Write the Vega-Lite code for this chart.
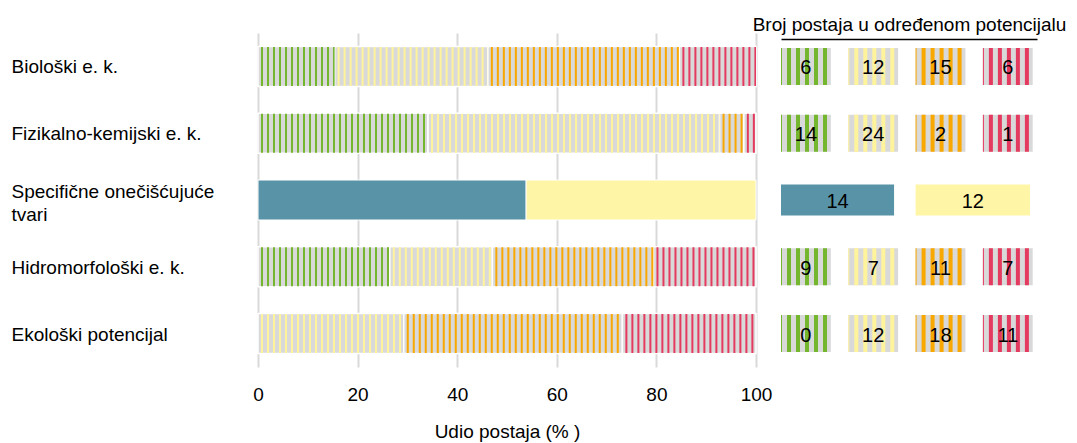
{
  "$schema": "https://vega.github.io/schema/vega-lite/v6.json",
  "background": "white",
  "padding": {"left": 11, "top": 15, "right": 5, "bottom": 5},
  "bounds": "flush",
  "spacing": 25,
  "config": {
    "view": {"stroke": null},
    "font": "Liberation Sans",
    "text": {"font": "Liberation Sans"}
  },
  "datasets": {
    "d": [
      {"cat": "Biološki e. k.", "cls": "dobar i bolji", "n": 6},
      {"cat": "Biološki e. k.", "cls": "umjeren", "n": 12},
      {"cat": "Biološki e. k.", "cls": "loš", "n": 15},
      {"cat": "Biološki e. k.", "cls": "vrlo loš", "n": 6},
      {"cat": "Fizikalno-kemijski e. k.", "cls": "dobar i bolji", "n": 14},
      {"cat": "Fizikalno-kemijski e. k.", "cls": "umjeren", "n": 24},
      {"cat": "Fizikalno-kemijski e. k.", "cls": "loš", "n": 2},
      {"cat": "Fizikalno-kemijski e. k.", "cls": "vrlo loš", "n": 1},
      {"cat": "Specifične onečišćujuće tvari", "cls": "dobro stanje", "n": 14},
      {"cat": "Specifične onečišćujuće tvari", "cls": "nije postignuto dobro stanje", "n": 12},
      {"cat": "Hidromorfološki e. k.", "cls": "dobar i bolji", "n": 9},
      {"cat": "Hidromorfološki e. k.", "cls": "umjeren", "n": 7},
      {"cat": "Hidromorfološki e. k.", "cls": "loš", "n": 11},
      {"cat": "Hidromorfološki e. k.", "cls": "vrlo loš", "n": 7},
      {"cat": "Ekološki potencijal", "cls": "dobar i bolji", "n": 0},
      {"cat": "Ekološki potencijal", "cls": "umjeren", "n": 12},
      {"cat": "Ekološki potencijal", "cls": "loš", "n": 18},
      {"cat": "Ekološki potencijal", "cls": "vrlo loš", "n": 11}
    ]
  },
  "hconcat": [
    {
      "width": 498,
      "height": 334,
      "data": {"name": "d"},
      "transform": [
        {"calculate": "indexof(['dobar i bolji','dobro stanje','umjeren','nije postignuto dobro stanje','loš','vrlo loš'], datum.cls)", "as": "o"},
        {"stack": "n", "groupby": ["cat"], "sort": [{"field": "o", "order": "ascending"}], "offset": "normalize", "as": ["p0", "p1"]}
      ],
      "encoding": {
        "y": {
          "field": "cat", "type": "nominal",
          "sort": ["Biološki e. k.", "Fizikalno-kemijski e. k.", "Specifične onečišćujuće tvari", "Hidromorfološki e. k.", "Ekološki potencijal"],
          "scale": {"paddingInner": 0, "paddingOuter": 0},
          "axis": {
            "title": null, "domain": false, "ticks": false, "tickSize": 0,
            "labelAlign": "left", "labelBaseline": "middle", "labelPadding": 247,
            "labelFontSize": 19, "labelColor": "black", "labelLimit": 400, "labelLineHeight": 23,
            "labelOffset": {"condition": {"test": "datum.label == 'Specifične onečišćujuće tvari'", "value": -8}, "value": 1},
            "labelExpr": "datum.label == 'Specifične onečišćujuće tvari' ? ['Specifične onečišćujuće', 'tvari'] : datum.label"
          }
        },
        "x": {
          "field": "p0", "type": "quantitative",
          "scale": {"domain": [0, 1], "nice": false},
          "axis": {
            "values": [0, 0.2, 0.4, 0.6, 0.8, 1],
            "labelExpr": "format(datum.value * 100, 'd')",
            "grid": true, "gridColor": "#d9d9d9", "gridWidth": 2,
            "domain": false, "ticks": false, "labelFlush": false,
            "labelPadding": 18, "labelFontSize": 19, "labelColor": "black",
            "title": "Udio postaja (% )", "titleFontSize": 19, "titleFontWeight": "normal",
            "titleColor": "black", "titlePadding": 18
          }
        },
        "x2": {"field": "p1"}
      },
      "layer": [
        {
          "transform": [{"filter": "datum.cls != 'dobro stanje' && datum.cls != 'nije postignuto dobro stanje'"}],
          "mark": {"type": "bar", "size": 40, "fill": "#d9d9d9", "stroke": "white", "strokeWidth": 1.5}
        },
        {
          "transform": [{"filter": "datum.cls != 'dobro stanje' && datum.cls != 'nije postignuto dobro stanje'"}],
          "mark": {"type": "rule", "strokeWidth": 39, "strokeDash": [2, 4], "strokeDashOffset": 3},
          "encoding": {
            "color": {
              "field": "cls", "type": "nominal", "legend": null,
              "scale": {
                "domain": ["dobar i bolji", "umjeren", "loš", "vrlo loš", "dobro stanje", "nije postignuto dobro stanje"],
                "range": ["#74b72e", "#fff39c", "#f8a800", "#e53a5f", "#5993a8", "#fff5a6"]
              }
            }
          }
        },
        {
          "transform": [{"filter": "datum.cls == 'dobro stanje' || datum.cls == 'nije postignuto dobro stanje'"}],
          "mark": {"type": "bar", "size": 40, "stroke": "white", "strokeWidth": 1},
          "encoding": {
            "color": {"field": "cls", "type": "nominal", "legend": null}
          }
        }
      ]
    },
    {
      "width": 256,
      "height": 334,
      "data": {"name": "d"},
      "transform": [
        {"calculate": "datum.cls == 'dobro stanje' ? 0 : (datum.cls == 'nije postignuto dobro stanje' ? 2.0 : indexof(['dobar i bolji','umjeren','loš','vrlo loš'], datum.cls))", "as": "c0"},
        {"calculate": "datum.cls == 'dobro stanje' ? 1.68 : (datum.cls == 'nije postignuto dobro stanje' ? 3.7 : datum.c0 + 0.74)", "as": "c1"},
        {"calculate": "(datum.c0 + datum.c1) / 2", "as": "cm"}
      ],
      "encoding": {
        "y": {
          "field": "cat", "type": "nominal",
          "sort": ["Biološki e. k.", "Fizikalno-kemijski e. k.", "Specifične onečišćujuće tvari", "Hidromorfološki e. k.", "Ekološki potencijal"],
          "scale": {"paddingInner": 0, "paddingOuter": 0},
          "axis": null
        }
      },
      "layer": [
        {
          "transform": [{"filter": "datum.cls != 'dobro stanje' && datum.cls != 'nije postignuto dobro stanje'"}],
          "mark": {"type": "bar", "size": 37, "fill": "#d9d9d9"},
          "encoding": {
            "x": {
              "field": "c0", "type": "quantitative",
              "scale": {"domain": [0, 3.804], "nice": false, "zero": false},
              "axis": {
                "orient": "top", "domain": true, "domainColor": "black", "domainWidth": 1.5,
                "ticks": false, "labels": false, "grid": false, "offset": -6,
                "title": "Broj postaja u određenom potencijalu", "titleFontSize": 19,
                "titleFontWeight": "normal", "titleColor": "black", "titlePadding": 5
              }
            },
            "x2": {"field": "c1"}
          }
        },
        {
          "transform": [{"filter": "datum.cls != 'dobro stanje' && datum.cls != 'nije postignuto dobro stanje'"}],
          "mark": {"type": "rule", "strokeWidth": 37, "strokeDash": [4, 5], "strokeDashOffset": 3},
          "encoding": {
            "x": {"field": "c0", "type": "quantitative"},
            "x2": {"field": "c1"},
            "color": {"field": "cls", "type": "nominal", "legend": null}
          }
        },
        {
          "transform": [{"filter": "datum.cls == 'dobro stanje' || datum.cls == 'nije postignuto dobro stanje'"}],
          "mark": {"type": "bar", "size": 31},
          "encoding": {
            "x": {"field": "c0", "type": "quantitative"},
            "x2": {"field": "c1"},
            "color": {"field": "cls", "type": "nominal", "legend": null}
          }
        },
        {
          "mark": {"type": "text", "fontSize": 20, "color": "black", "baseline": "middle", "align": "center", "dy": 2},
          "encoding": {
            "x": {"field": "cm", "type": "quantitative"},
            "text": {"field": "n", "type": "quantitative"}
          }
        }
      ]
    }
  ],
  "resolve": {"scale": {"y": "independent", "x": "independent", "color": "shared"}}
}
